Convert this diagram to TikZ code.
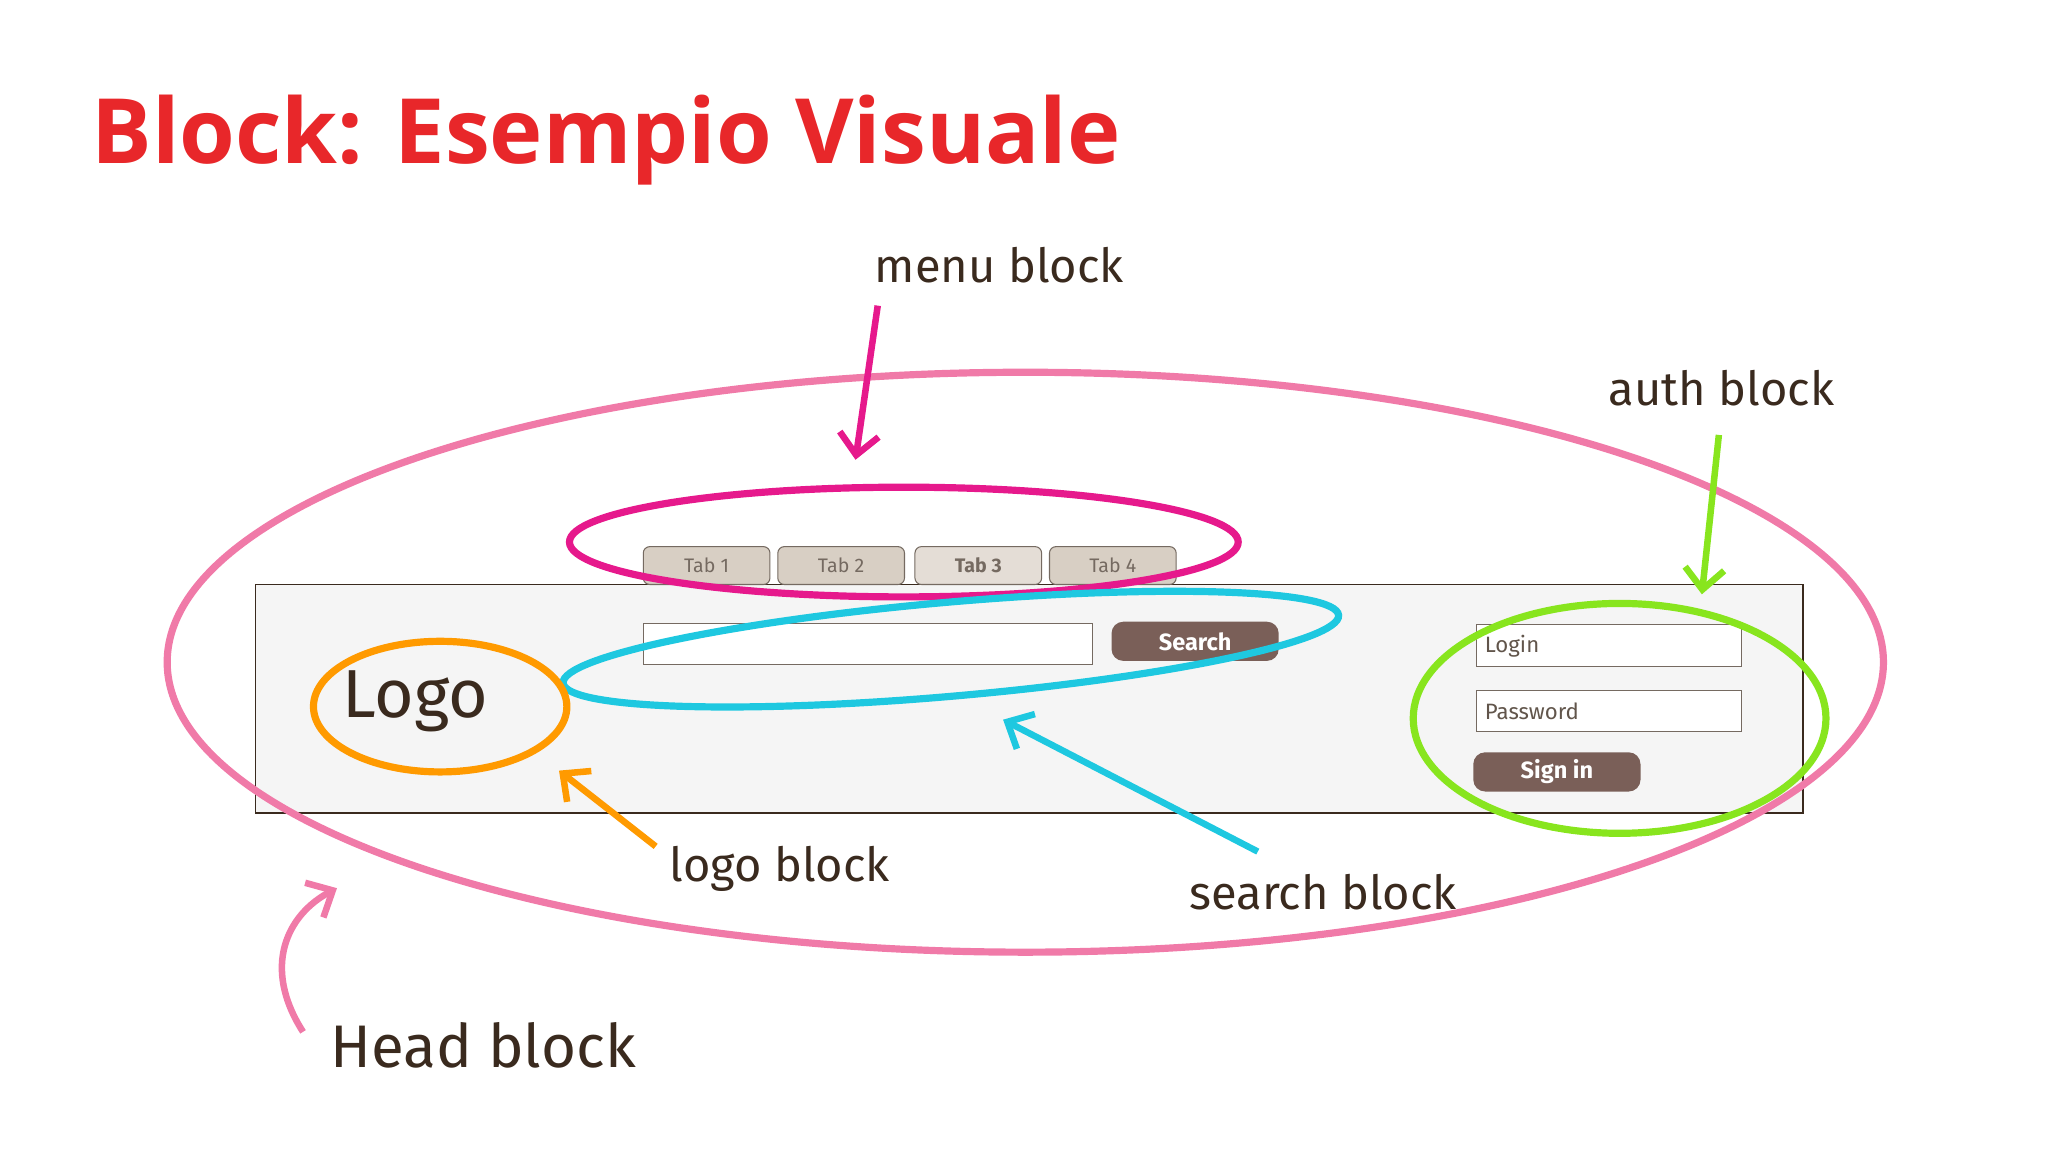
\documentclass[tikz,border=0pt]{standalone}
\usepackage{fontspec}
\setmainfont{Open Sans}
\newfontfamily\hand{Fira Sans}
\usetikzlibrary{arrows.meta}
\definecolor{ttl}{HTML}{E8272A}
\definecolor{ink}{HTML}{3A2A1E}
\definecolor{pk}{HTML}{F07AA8}
\definecolor{mg}{HTML}{E6198C}
\definecolor{cy}{HTML}{1EC8E0}
\definecolor{og}{HTML}{FF9A00}
\definecolor{gr}{HTML}{88E51E}
\definecolor{btn}{HTML}{7A5F58}
\definecolor{tabf}{HTML}{D8CFC4}
\tikzset{
 lbl/.style={font=\hand\fontsize{36}{40}\selectfont, text=ink},
 field/.style={draw=ink!70, fill=white, line width=0.8pt, inner sep=4pt, anchor=north west, font=\hand\fontsize{17}{20}\selectfont, text=ink!80},
 tabbox/.style={draw=ink!70, fill=tabf, rounded corners=5pt, line width=0.8pt, minimum width=97pt, minimum height=29pt, font=\hand\fontsize{15}{18}\selectfont, text=ink!70},
 button/.style={fill=btn, rounded corners=9pt, text=white, minimum width=128pt, minimum height=30pt, font=\hand\bfseries\fontsize{18}{20}\selectfont},
 loop/.style={line width=5.5pt},
 arr/.style={line width=5pt, -{Straight Barb[length=16pt,width=30pt]}}
}
\begin{document}
\begin{tikzpicture}[x=1pt,y=-1pt]
\useasboundingbox (0,0) rectangle (1568,882);
\node[anchor=base west, text=ttl, font=\bfseries\fontsize{69}{74}\selectfont, inner sep=0] (title) at (70,125) {Block: Esempio Visuale};
% header
\node[draw=ink, fill=black!4, line width=1pt, minimum width=1185pt, minimum height=175pt, anchor=north west, inner sep=0] (hdr) at (195,447) {};
\node[tabbox] (t1) at (541,433) {Tab 1};
\node[tabbox] (t2) at (644,433) {Tab 2};
\node[tabbox, fill=tabf!70, font=\hand\bfseries\fontsize{15}{18}\selectfont] (t3) at (749,433) {Tab 3};
\node[tabbox] (t4) at (852,433) {Tab 4};
\node[field, minimum width=344pt, minimum height=31pt] (sf) at (492,477) {};
\node[button] (sb) at (915,491) {Search};
\node[field, minimum width=203pt, minimum height=32pt, text width=190pt] (lf) at (1130,478) {Login};
\node[field, minimum width=203pt, minimum height=32pt, text width=190pt] (pf) at (1130,528) {Password};
\node[button] (si) at (1192,591) {Sign in};
\node[font=\hand\fontsize{52}{56}\selectfont, text=ink] (logo) at (318,537) {Logo};
% loops
\draw[pk, loop] (785,507) ellipse [x radius=657, y radius=222];
\draw[mg, loop] (692,415) ellipse [x radius=256, y radius=42];
\draw[cy, loop, rotate around={5:(728,497)}] (728,497) ellipse [x radius=298, y radius=36];
\draw[og, loop] (337,541) ellipse [x radius=97, y radius=50];
\draw[gr, loop] (1240,550) ellipse [x radius=158, y radius=88];
% labels
\node[lbl] (lmenu) at (765,203) {menu block};
\node[lbl] (lauth) at (1318,297) {auth block};
\node[lbl] (llogo) at (597,665) {logo block};
\node[lbl] (lsearch) at (1013,683) {search block};
\node[lbl, font=\hand\fontsize{46}{50}\selectfont] (lhead) at (370,800) {Head block};
\coordinate (cm) at (655,352);
\coordinate (ca) at (1303,455);
\coordinate (cl) at (428,590);
\coordinate (cs) at (768,551);
\coordinate (ch) at (258,680);
\draw[arr, mg] (672,234) -- (cm);
\draw[arr, gr] (1316,333) -- (ca);
\draw[arr, og] (502,648) -- (cl);
\draw[arr, cy] (963,652) -- (cs);
\draw[arr, pk] (232,790) .. controls (200,740) and (220,700) .. (ch);
\end{tikzpicture}
\end{document}
